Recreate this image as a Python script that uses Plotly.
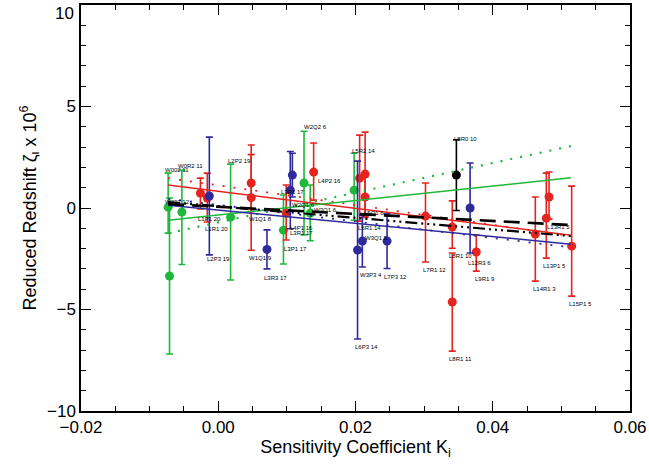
import plotly.graph_objects as go

# ---------------- data ----------------
green_x = [-0.0073, -0.0071, -0.0053, 0.0018, 0.0095, 0.0125, 0.0134, 0.0198]
green_y = [0.04, -3.35, -0.20, -0.45, -1.09, 1.23, -0.25, 0.88]
green_hi = [1.68, 3.84, 2.07, 2.61, 1.73, 2.55, 1.38, 1.82]
green_lo = [1.28, 3.84, 2.58, 3.10, 1.67, 2.56, 1.36, 1.48]

red_x = [-0.0026, -0.0016, 0.0048, 0.0048, 0.0099, 0.0139, 0.0206, 0.0214, 0.0214,
         0.0302, 0.0341, 0.0341, 0.0376, 0.0462, 0.0478, 0.0482, 0.0515]
red_y = [0.73, 0.49, 1.23, 0.51, -0.25, 1.77, 1.47, 1.67, 0.54,
         -0.40, -0.94, -4.63, -2.17, -1.29, -0.50, 0.54, -1.88]
red_hi = [0.74, 1.23, 1.40, 2.59, 1.38, 1.43, 2.12, 2.07, 1.00,
          1.63, 1.29, 2.41, 0.84, 1.83, 2.22, 1.23, 2.96]
red_lo = [0.78, 1.18, 1.40, 2.59, 1.33, 1.38, 2.12, 2.07, 1.00,
          2.26, 1.04, 2.42, 0.94, 2.31, 1.97, 1.09, 2.46]

blue_x = [-0.0013, 0.0071, 0.0105, 0.0108, 0.0203, 0.0210, 0.0246, 0.0367]
blue_y = [0.59, -2.04, 0.88, 1.62, -2.07, -1.63, -1.63, 0.00]
blue_err = [2.90, 0.96, 1.90, 1.08, 4.38, 1.28, 1.35, 2.22]

black_x = [0.0347]
black_y = [1.62]
black_err = [1.74]

fit_x = [-0.0073, 0.0514]
red_fit = [1.13, -1.34]
green_fit = [-0.60, 1.49]
blue_fit = [0.14, -1.78]
green_dotted = [-1.24, 3.05]
red_dotted = [1.47, -1.38]
blue_dotted = [0.45, -1.94]
black_dash = [0.19, -0.84]
black_dashdot = [0.29, -1.38]

x_tickvals = [-0.02, 0.0, 0.02, 0.04, 0.06]
x_ticktext = ["\u22120.02", "0.00", "0.02", "0.04", "0.06"]
y_tickvals = [-10, -5, 0, 5]
y_ticktext = ["\u221210", "\u22125", "0", "5"]
y_top_value = 10
y_top_text = "10"

label_text = ["W002 11", "W0R2 11", "W002 12", "L2P2 19", "L1P1 20", "L1R1 20", "L2P3 19",
              "W1Q1 8", "W1Q1 9", "L3R3 17", "L3P1 17", "L3R1 17", "L4P1 16", "L3R1 17",
              "W2Q2 6", "L4P2 16", "W2Q1 6", "W3Q1 6", "L5R2 14", "L5Q1 6", "L5R1 14",
              "W3Q1 5", "W3P3 4", "L7P3 12", "L6P3 14", "L7R1 12", "L8R1 10", "L12R3 6",
              "L9R1 9", "L8R1 11", "L8R0 10", "L13R1 5", "L13P1 5", "L14R1 3", "L15P1 5"]
label_x = [-0.0080, -0.0062, -0.0080, 0.0012, -0.0033, -0.0022, -0.0019,
           0.0042, 0.0042, 0.0064, 0.0093, 0.0088, 0.0102, 0.0102,
           0.0122, 0.0142, 0.0105, 0.0137, 0.0192, 0.0209, 0.0200,
           0.0211, 0.0204, 0.0239, 0.0196, 0.0296, 0.0333, 0.0361,
           0.0371, 0.0334, 0.0341, 0.0476, 0.0470, 0.0456, 0.0508]
label_y = [1.87, 2.08, 0.28, 2.33, -0.55, -1.04, -2.52,
           -0.53, -2.48, -3.44, -2.02, 0.80, -1.00, -1.22,
           3.97, 1.33, 0.17, -0.10, 2.82, -0.24, -1.00,
           -1.47, -3.31, -3.39, -6.87, -3.06, -2.35, -2.70,
           -3.52, -7.46, 3.39, -0.96, -2.86, -4.01, -4.75]

RED = "#e52420"
GREEN = "#1fb83a"
BLUE = "#2e2a9c"
BLACK = "#000000"
FONT = "Liberation Sans"

fig = go.Figure()


def add_points(xs, ys, hi, lo, color):
    fig.add_trace(go.Scatter(
        x=xs, y=ys, mode="markers",
        marker=dict(color=color, size=9, line=dict(width=0)),
        error_y=dict(type="data", symmetric=False, array=hi, arrayminus=lo,
                     color=color, thickness=1.6, width=3.5),
        showlegend=False, hoverinfo="skip"))


add_points(green_x, green_y, green_hi, green_lo, GREEN)
add_points(red_x, red_y, red_hi, red_lo, RED)
add_points(blue_x, blue_y, blue_err, blue_err, BLUE)
add_points(black_x, black_y, black_err, black_err, BLACK)


def add_line(ys, color, width, dash):
    fig.add_trace(go.Scatter(x=fit_x, y=ys, mode="lines",
                             line=dict(color=color, width=width, dash=dash),
                             showlegend=False, hoverinfo="skip"))


add_line(green_dotted, GREEN, 2.2, "2px,8px")
add_line(red_dotted, RED, 1.8, "2px,9px")
add_line(blue_dotted, BLUE, 1.8, "2px,9px")
add_line(red_fit, RED, 1.5, "solid")
add_line(green_fit, GREEN, 1.5, "solid")
add_line(blue_fit, BLUE, 1.5, "solid")
add_line(black_dash, BLACK, 2.6, "16px,8px")
add_line(black_dashdot, BLACK, 2.2, "12px,4px,2px,4px,2px,4px,2px,4px")

for t, lx, ly in zip(label_text, label_x, label_y):
    fig.add_annotation(x=lx, y=ly, text=t, showarrow=False, xanchor="left",
                       yanchor="middle", font=dict(size=6, color="black", family=FONT))

# top y tick label, kept inside the figure like the reference
fig.add_annotation(xref="paper", x=0, y=y_top_value, yref="y", text=y_top_text,
                   showarrow=False, xanchor="right", yanchor="top", xshift=-5, yshift=3,
                   font=dict(size=17, color="black", family=FONT))

axis_common = dict(showgrid=False, zeroline=False, showline=True, linecolor="black",
                   linewidth=1.5, mirror="ticks", ticks="inside", ticklen=10,
                   tickwidth=1, tickcolor="black",
                   tickfont=dict(size=17, color="black", family=FONT))

fig.update_xaxes(range=[-0.02, 0.06], tickvals=x_tickvals, ticktext=x_ticktext,
                 minor=dict(ticks="inside", ticklen=5, dtick=0.005, tickcolor="black",
                            tick0=0),
                 title=dict(text="Sensitivity Coefficient K<sub>i</sub>",
                            font=dict(size=18, color="black", family=FONT),
                            standoff=4),
                 **axis_common)
fig.update_yaxes(range=[-10, 10], tickvals=y_tickvals + [y_top_value],
                 ticktext=y_ticktext + [""],
                 minor=dict(ticks="inside", ticklen=5, dtick=1, tickcolor="black", tick0=0),
                 title=dict(text="Reduced Redshift \u03b6<sub>\u03b9</sub> x 10<sup>6</sup>",
                            font=dict(size=18, color="black", family=FONT),
                            standoff=6),
                 **axis_common)

fig.update_layout(width=649, height=468, margin=dict(l=81, r=19, t=5, b=57, autoexpand=False),
                  plot_bgcolor="white", paper_bgcolor="white")

fig.write_html("out.html")
